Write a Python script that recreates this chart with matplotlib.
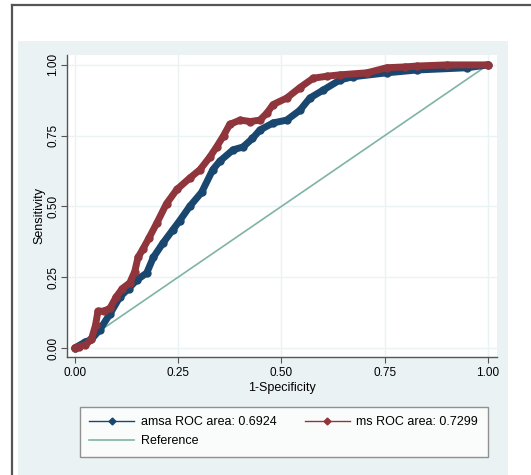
import matplotlib
matplotlib.use('Agg')
import matplotlib.pyplot as plt
from matplotlib.lines import Line2D
from matplotlib.patches import Rectangle

plt.rcParams['font.family'] = ['Liberation Sans', 'DejaVu Sans']

# ROC points (1-specificity, sensitivity)
amsa_x = [0, 0.024, 0.04, 0.06, 0.085, 0.109, 0.13, 0.15, 0.174, 0.19, 0.213, 0.237,
          0.254, 0.278, 0.307, 0.334, 0.351, 0.383, 0.407, 0.43, 0.448, 0.48, 0.513,
          0.545, 0.569, 0.60, 0.642, 0.673, 0.755, 0.828, 0.95, 1.0]
amsa_y = [0, 0.02, 0.03, 0.064, 0.12, 0.18, 0.21, 0.24, 0.265, 0.32, 0.37, 0.417,
          0.45, 0.50, 0.55, 0.63, 0.66, 0.70, 0.71, 0.74, 0.77, 0.795, 0.805,
          0.84, 0.883, 0.91, 0.947, 0.958, 0.972, 0.982, 0.99, 1.0]

ms_x = [0, 0.01, 0.025, 0.04, 0.05, 0.056, 0.07, 0.085, 0.1, 0.115, 0.133, 0.145,
        0.153, 0.165, 0.18, 0.198, 0.222, 0.247, 0.278, 0.303, 0.327, 0.343, 0.36,
        0.375, 0.40, 0.425, 0.448, 0.465, 0.48, 0.513, 0.545, 0.577, 0.61, 0.642,
        0.707, 0.755, 0.80, 0.828, 0.9, 1.0]
ms_y = [0, 0.005, 0.01, 0.03, 0.08, 0.13, 0.13, 0.14, 0.18, 0.21, 0.23, 0.27,
        0.32, 0.35, 0.39, 0.44, 0.51, 0.56, 0.60, 0.63, 0.675, 0.71, 0.75,
        0.79, 0.805, 0.80, 0.805, 0.83, 0.86, 0.883, 0.92, 0.953, 0.96, 0.965,
        0.972, 0.99, 0.993, 0.996, 1.0, 1.0]

ref_x = [0, 1]
ref_y = [0, 1]

labels = ['amsa ROC area: 0.6924', 'ms ROC area: 0.7299', 'Reference']
ticks = [0, 0.25, 0.5, 0.75, 1.0]

navy = '#1a476f'
maroon = '#90353b'
teal = '#7fb3a6'
region = '#eaf2f3'

W, H = 531, 475
fig = plt.figure(figsize=(W / 100, H / 100), dpi=100)
fig.patch.set_facecolor('white')

# outer frame and graph region
fig.add_artist(Line2D([12 / W, 12 / W], [0, 1 - 5 / H], color='#555555', lw=1.6))
fig.add_artist(Line2D([12 / W, 1], [1 - 5 / H, 1 - 5 / H], color='#555555', lw=1.6))
fig.add_artist(Rectangle((18 / W, 0), (508 - 18) / W, 1 - 41 / H,
                         facecolor=region, edgecolor='none', zorder=-5))

ax = fig.add_axes([67 / W, 1 - 357 / H, (497 - 67) / W, (357 - 55) / H])
ax.set_facecolor('white')

ax.plot(ref_x, ref_y, color=teal, lw=1.2, zorder=2)
ax.plot(amsa_x, amsa_y, color=navy, lw=5, marker='o', ms=5, zorder=3,
        solid_capstyle='round', solid_joinstyle='round')
ax.plot(ms_x, ms_y, color=maroon, lw=5, marker='o', ms=5, zorder=4,
        solid_capstyle='round', solid_joinstyle='round')

ax.set_xlim(-0.019, 1.022)
ax.set_ylim(-0.032, 1.035)
ax.set_xticks(ticks)
ax.set_yticks(ticks)
ax.set_xticklabels(['%.2f' % t for t in ticks], fontsize=8.5)
ax.set_yticklabels(['%.2f' % t for t in ticks], fontsize=8.5, rotation=90, va='center')
ax.tick_params(direction='out', length=4, width=0.8, color='#555555', pad=3)
ax.tick_params(axis='y', pad=1.5)
ax.grid(color=region, lw=1)
ax.set_axisbelow(True)

for s in ['top', 'right']:
    ax.spines[s].set_visible(False)
for s in ['left', 'bottom']:
    ax.spines[s].set_color('#555555')
    ax.spines[s].set_linewidth(1)

ax.set_xlabel('1-Specificity', fontsize=9, labelpad=2)
ax.set_ylabel('Sensitivity', fontsize=9)
ax.yaxis.set_label_coords((45 - 67) / (497 - 67), 0.47)

handles = [Line2D([], [], color=navy, lw=1, marker='D', ms=3.5),
           Line2D([], [], color=teal, lw=1.2),
           Line2D([], [], color=maroon, lw=1, marker='D', ms=3.5)]
leg = fig.legend(handles, [labels[0], labels[2], labels[1]], ncol=2,
                 loc='upper left', bbox_to_anchor=(80 / W, 1 - 407 / H),
                 fontsize=9, frameon=True, fancybox=False, numpoints=1,
                 handlelength=3.6, handletextpad=0.55, columnspacing=2.2,
                 labelspacing=0.55, borderpad=0.75, borderaxespad=0)
leg.get_frame().set_edgecolor('#777777')
leg.get_frame().set_linewidth(1)

fig.savefig('out.png', dpi=100)
